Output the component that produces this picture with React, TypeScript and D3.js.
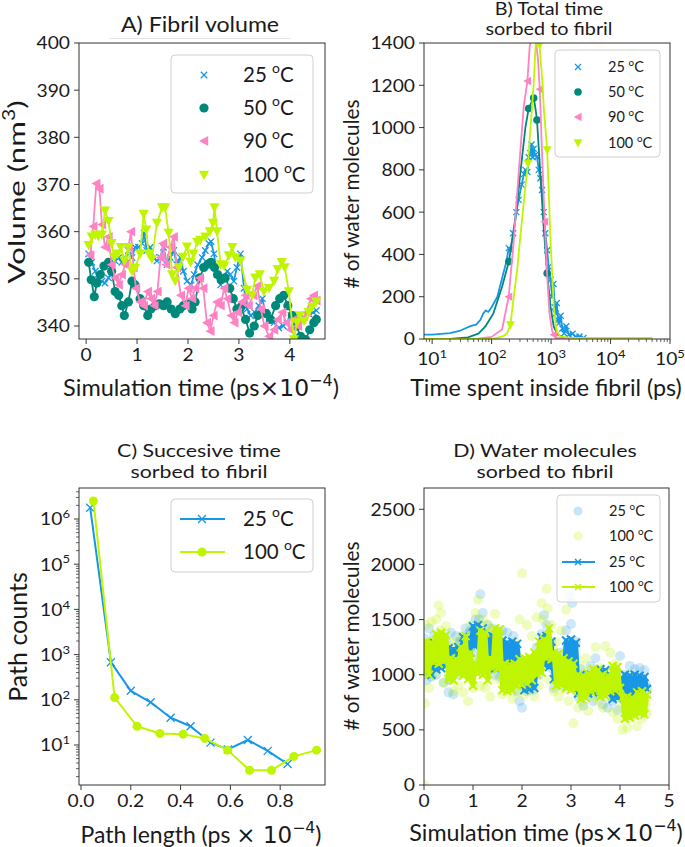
import React from 'react';
import * as d3 from 'd3';

const FONT = 'Lato, "Open Sans", sans-serif';
const MATH = '"DejaVu Sans", sans-serif';

const BLUE = '#1797e6';
const TEAL = '#00897a';
const PINK = '#ff82c3';
const LIME = '#bff500';

// ---------- Panel A: Fibril volume (time ×1e-4 ps, nm^3)
const A25: [number, number][] = [[0.05,355.3],[0.11,353.5],[0.18,351.6],[0.24,349.8],[0.31,349.5],[0.37,349.1],[0.44,350.2],[0.5,351.6],[0.57,353.8],[0.64,354.5],[0.7,353.5],[0.77,354.5],[0.83,356],[0.9,354.5],[0.96,356.7],[1.03,356.7],[1.1,357.5],[1.14,359.7],[1.19,356],[1.26,356.7],[1.33,354.5],[1.39,353.8],[1.46,354.5],[1.52,356.7],[1.59,353],[1.65,354.5],[1.72,356],[1.78,353],[1.85,354.5],[1.91,351.6],[1.98,349.5],[2.06,348.7],[2.12,350.9],[2.19,353],[2.28,354.5],[2.34,356],[2.41,357.5],[2.45,357.9],[2.51,355.3],[2.57,350.9],[2.64,348.7],[2.7,350.2],[2.77,351.6],[2.83,350.9],[2.9,349.5],[2.96,352.4],[3.03,355.3],[3.1,348],[3.16,343.6],[3.23,342.2],[3.31,342.9],[3.39,344.3],[3.46,345.8],[3.52,342.9],[3.59,341.4],[3.69,340.7],[3.78,339.6],[3.87,340],[3.94,340.7],[4.02,342.2],[4.11,340.7],[4.2,341.4],[4.28,341.8],[4.37,342.6],[4.46,342.9],[4.52,343.3]];
const A50: [number, number][] = [[0.05,353.5],[0.1,349.8],[0.16,346.2],[0.21,349.1],[0.28,350.9],[0.35,352.7],[0.44,353.5],[0.5,351.6],[0.57,347.3],[0.64,346.5],[0.7,344.3],[0.75,342.2],[0.83,345.1],[0.9,349.5],[0.96,348.7],[1.06,345.8],[1.13,344.3],[1.21,342.2],[1.27,343.6],[1.36,344.3],[1.44,344.7],[1.52,344.3],[1.59,345.1],[1.67,343.6],[1.75,342.6],[1.84,343.6],[1.91,344.3],[2.0,344.7],[2.08,343.6],[2.14,345.1],[2.23,350.2],[2.31,352.4],[2.39,353.1],[2.45,353.5],[2.52,352.4],[2.58,350.9],[2.65,349.8],[2.73,350.2],[2.82,348],[2.89,345.8],[2.96,343.6],[3.04,344],[3.13,341.4],[3.21,338.5],[3.3,340],[3.37,342.2],[3.46,342.9],[3.54,342.6],[3.62,341.4],[3.72,344.3],[3.8,345.8],[3.88,346.5],[3.96,344.3],[4.05,342.2],[4.13,340],[4.21,337.8],[4.31,337.1],[4.39,339.2],[4.47,340.7],[4.52,341.4]];
const A90: [number, number][] = [[0.08,355],[0.14,361.1],[0.2,370.2],[0.26,369.1],[0.31,361.5],[0.37,356.7],[0.44,358.9],[0.5,353],[0.57,350.2],[0.64,348.7],[0.7,350.9],[0.77,353],[0.83,356.7],[0.88,360],[0.93,352.4],[0.98,348],[1.06,345.1],[1.13,344.3],[1.21,347.3],[1.27,345.8],[1.34,344.3],[1.4,347.3],[1.46,354.5],[1.51,357.5],[1.57,353],[1.65,356.7],[1.72,358.9],[1.78,352.4],[1.86,346.5],[1.95,344.3],[2.01,348],[2.08,345.8],[2.14,348],[2.23,350.2],[2.3,348],[2.37,340.7],[2.44,338.9],[2.5,342.2],[2.57,345.1],[2.64,344.3],[2.71,348],[2.77,345.8],[2.85,342.2],[2.91,340.7],[2.98,342.9],[3.06,345.1],[3.13,346.5],[3.19,344.3],[3.28,346.5],[3.36,348.5],[3.43,343.6],[3.5,340],[3.59,337.8],[3.69,339.2],[3.76,341.4],[3.85,342.9],[3.93,340.7],[4.01,339.2],[4.08,341.4],[4.16,340],[4.24,341.4],[4.33,342.9],[4.41,345.8],[4.47,346.5],[4.52,345.4]];
const A100: [number, number][] = [[0.05,357.1],[0.11,358.9],[0.18,359.3],[0.24,359],[0.31,359.3],[0.37,364.4],[0.44,362.2],[0.5,357.5],[0.55,354.6],[0.62,355.3],[0.68,356.7],[0.75,353.8],[0.83,356.7],[0.9,351.6],[0.96,352.3],[1.06,355.3],[1.13,363.7],[1.18,360.4],[1.23,355.3],[1.29,354.2],[1.39,361.8],[1.49,365.1],[1.55,365.1],[1.62,359.7],[1.69,350.9],[1.75,349.5],[1.82,352.4],[1.9,354.6],[1.98,356.8],[2.05,353.5],[2.11,355.3],[2.18,357.8],[2.24,358.2],[2.34,358.9],[2.43,360],[2.49,361.8],[2.52,365.1],[2.57,360],[2.64,353],[2.71,352.7],[2.8,354.9],[2.87,356.7],[2.93,354.5],[3.03,353.8],[3.16,347.6],[3.26,346.5],[3.32,350.2],[3.41,350.9],[3.49,347.3],[3.59,348],[3.69,349.5],[3.76,352],[3.84,353.5],[3.9,352.4],[3.98,347.3],[4.08,337.1],[4.14,340.7],[4.2,342.2],[4.28,341],[4.37,342.9],[4.44,344],[4.52,345.1]];
const A_X_TICKS = [0, 1, 2, 3, 4];
const A_Y_TICKS = [340, 350, 360, 370, 380, 390, 400];

// ---------- Panel B: total time sorbed (ps, count)
const B25: [number, number][] = [[5,20],[10,21],[20,28],[30,40],[45,62],[55,68],[65,90],[72,120],[80,135],[88,128],[100,150],[125,200],[150,287],[175,360],[195,430],[207,421],[230,500],[260,600],[285,658],[320,730],[350,780],[370,800],[400,790],[420,860],[450,880],[470,920],[490,860],[510,900],[540,870],[580,862],[620,800],[660,760],[705,705],[750,600],[800,500],[860,420],[910,342],[980,280],[1040,200],[1100,260],[1150,150],[1200,121],[1250,170],[1300,90],[1350,74],[1450,110],[1550,50],[1660,27],[1800,60],[2000,20],[2300,25],[2600,10],[3000,12],[3500,5],[5000,3],[50000,2]];
const B50: [number, number][] = [[5,0],[20,1],[40,8],[60,25],[78,58],[107,121],[150,247],[195,366],[250,560],[303,780],[370,1000],[420,1090],[470,1120],[510,1140],[540,1100],[580,1036],[660,784],[750,531],[860,311],[980,153],[1110,58],[1300,20],[1600,6],[2500,2],[50000,1]];
const B90: [number, number][] = [[5,0],[40,0],[60,2],[100,10],[150,45],[194,200],[236,468],[285,784],[347,1099],[400,1220],[437,1383],[480,1450],[547,1420],[600,1330],[645,1181],[700,900],[780,555],[860,300],[940,121],[1040,40],[1110,20],[1200,5],[2000,1],[50000,0]];
const B100: [number, number][] = [[5,0],[100,0],[131,8],[160,15],[182,27],[207,66],[236,200],[270,330],[303,480],[340,620],[370,720],[410,830],[440,960],[480,1100],[515,1225],[547,1383],[590,1450],[640,1390],[700,1250],[760,1080],[860,894],[980,468],[1110,153],[1230,43],[1400,12],[2000,6],[50000,5]];
const B_MARK50 = [195, 420, 510, 580, 860];
const B_MARK90 = [194, 400, 645, 780, 1110];
const B_MARK100 = [207, 410, 640, 860];
const B_X_EXP = [1, 2, 3, 4, 5];
const B_Y_TICKS = [0, 200, 400, 600, 800, 1000, 1200, 1400];

// ---------- Panel C: path counts
const C25: [number, number][] = [[0.037,1.78e6],[0.12,680],[0.2,158],[0.28,88],[0.36,40],[0.44,26],[0.52,11.3],[0.59,8],[0.67,12.9],[0.75,7.4],[0.83,3.8]];
const C100: [number, number][] = [[0.05,2.5e6],[0.135,112],[0.225,26],[0.317,18],[0.41,17.4],[0.497,14],[0.589,7.7],[0.677,2.75],[0.765,2.75],[0.855,5.6],[0.946,7.7]];
const C_X_TICKS = [0, 0.2, 0.4, 0.6, 0.8];
const C_Y_EXP = [1, 2, 3, 4, 5, 6];

// ---------- Panel D: water molecules sorbed
const D_DT = 0.05;
const D_LINE25 = [1280,1020,1250,1000,1290,1050,1270,1060,1300,1080,1240,1050,1230,1070,1250,1150,1340,1160,1330,1200,1440,1260,1450,1270,1420,1120,1340,1100,1350,1060,1340,1080,1310,1120,1290,1110,1300,1130,1280,1100,1050,860,1040,870,1030,880,1060,1080,1340,1090,1350,1070,1300,960,1150,950,1140,980,1310,1060,1320,1070,1290,830,1000,820,990,830,1000,840,990,860,1050,850,1040,870,970,780,980,790,960,820,1000,830,990,820,1000,840,990,830,980,870];
const D_LINE100 = [1010,1300,1000,1290,1110,1370,1100,1380,1120,1360,960,1150,950,1140,1010,1250,990,1350,960,1200,900,1100,1010,1400,1000,1380,950,1150,1060,1420,1050,1410,860,1100,850,1090,860,1100,900,1140,910,1150,920,1160,950,1200,1000,1300,1020,1320,1150,1420,1140,1200,900,1190,910,1150,880,1120,860,1100,870,1000,780,990,790,1010,850,1050,860,1040,800,1000,810,990,850,1080,860,1070,880,790,600,800,610,790,630,840,650,850,640,820];
const D_SC25: [number, number][] = [[0,1330],[0.05,950],[0.1,1420],[0.15,980],[0.2,1350],[0.25,1000],[0.3,1250],[0.35,1320],[0.4,930],[0.45,1310],[0.5,840],[0.55,1380],[0.6,820],[0.65,1350],[0.7,1000],[0.75,1300],[0.8,1150],[0.85,1420],[0.9,1080],[0.95,1400],[1.0,1200],[1.05,1500],[1.1,1120],[1.15,1730],[1.2,1560],[1.25,1150],[1.3,1450],[1.35,1050],[1.4,1420],[1.45,1000],[1.5,1350],[1.55,980],[1.6,1400],[1.65,1060],[1.7,1380],[1.75,1000],[1.8,1240],[1.85,1120],[1.9,850],[1.95,760],[2.0,700],[2.05,1000],[2.1,850],[2.15,1080],[2.2,920],[2.25,1150],[2.3,1250],[2.35,1000],[2.4,1370],[2.45,1540],[2.5,1450],[2.55,1100],[2.6,1300],[2.65,880],[2.7,1150],[2.75,1000],[2.8,1200],[2.85,900],[2.9,1400],[2.95,1250],[3.0,1460],[3.05,1100],[3.1,1300],[3.15,800],[3.2,1050],[3.25,720],[3.3,990],[3.35,880],[3.4,1080],[3.45,760],[3.5,1150],[3.55,820],[3.6,1000],[3.65,730],[3.7,950],[3.75,700],[3.8,980],[3.85,760],[3.9,1050],[3.95,680],[4.0,1170],[4.05,780],[4.1,1000],[4.15,700],[4.2,1080],[4.25,800],[4.3,1050],[4.35,760],[4.4,1060],[4.45,800],[4.5,1040],[4.55,880],
  [0.025,1100],[0.125,1200],[0.225,1080],[0.325,1150],[0.425,1230],[0.525,950],[0.625,1180],[0.725,1300],[0.825,1250],[0.925,1380],[1.025,1300],[1.125,1500],[1.225,1380],[1.325,1250],[1.425,1180],[1.525,1250],[1.625,1150],[1.725,1260],[1.825,1350],[1.925,1150],[2.025,950],[2.125,980],[2.225,860],[2.325,1150],[2.425,1280],[2.525,1200],[2.625,1050],[2.725,1080],[2.825,1120],[2.925,1200],[2.975,1720],[3.025,1650],[3.125,1000],[3.225,900],[3.325,820],[3.425,950],[3.525,880],[3.625,900],[3.725,850],[3.825,900],[3.925,830],[4.025,900],[4.125,950],[4.225,880],[4.325,950],[4.425,900],[4.525,920]];
const D_SC100: [number, number][] = [[0,0],[0.02,740],[0.05,1450],[0.1,880],[0.15,1480],[0.2,1200],[0.25,1500],[0.3,1630],[0.35,1560],[0.4,920],[0.45,1440],[0.5,1000],[0.55,1260],[0.6,850],[0.65,1300],[0.7,900],[0.75,1350],[0.8,840],[0.85,1270],[0.9,760],[0.95,1450],[1.0,880],[1.05,1560],[1.1,1680],[1.15,900],[1.2,1500],[1.25,880],[1.3,1450],[1.35,800],[1.4,1380],[1.45,1550],[1.5,960],[1.55,1300],[1.6,820],[1.65,1200],[1.7,860],[1.75,1150],[1.8,780],[1.85,1300],[1.9,840],[1.95,1500],[2.0,1920],[2.05,820],[2.1,1450],[2.15,880],[2.2,1350],[2.25,800],[2.3,1520],[2.35,900],[2.4,1650],[2.45,1350],[2.5,1780],[2.55,950],[2.6,1450],[2.65,850],[2.7,1300],[2.75,800],[2.8,1400],[2.85,870],[2.9,1590],[2.95,760],[3.0,1300],[3.05,560],[3.1,1150],[3.15,700],[3.2,1080],[3.25,750],[3.3,1150],[3.35,670],[3.4,1050],[3.45,880],[3.5,1250],[3.55,760],[3.6,1060],[3.65,700],[3.7,1260],[3.75,800],[3.8,1200],[3.85,660],[3.9,1100],[3.95,600],[4.0,950],[4.05,500],[4.1,880],[4.15,520],[4.2,1000],[4.25,620],[4.3,900],[4.35,530],[4.4,800],[4.45,600],[4.5,750],[4.55,650],
  [0.025,1150],[0.125,1300],[0.225,1000],[0.325,1400],[0.425,1250],[0.525,1100],[0.625,1050],[0.725,1200],[0.825,1100],[0.925,1000],[1.025,1100],[1.125,1450],[1.225,1200],[1.325,1050],[1.425,1250],[1.525,1380],[1.625,980],[1.725,950],[1.825,1000],[1.925,1050],[2.025,1100],[2.125,1050],[2.225,1150],[2.325,1200],[2.425,1500],[2.525,1600],[2.625,1250],[2.725,1000],[2.825,1050],[2.925,950],[3.025,1000],[3.125,850],[3.225,900],[3.325,950],[3.425,800],[3.525,950],[3.625,900],[3.725,1000],[3.825,950],[3.925,850],[4.025,700],[4.125,650],[4.225,720],[4.325,700],[4.425,680],[4.525,720]];
const D_X_TICKS = [0, 1, 2, 3, 4, 5];
const D_Y_TICKS = [0, 500, 1000, 1500, 2000, 2500];

type Part = { t: string; sup?: boolean; font?: string };

function Txt(props: { x: number; y: number; parts: Part[]; size: number; anchor?: string; rotate?: boolean; font?: string; fill?: string; sx?: number }) {
  const { x, y, parts, size, anchor = 'start', rotate, font = FONT, fill = '#1a1a1a', sx = 1 } = props;
  let raised = false;
  const shift = size * 0.42;
  const kids = parts.map((p, i) => {
    let dy: number | undefined;
    if (p.sup && !raised) { dy = -shift; raised = true; }
    else if (!p.sup && raised) { dy = shift; raised = false; }
    return (
      <tspan key={i} dy={dy} fontSize={p.sup ? size * 0.68 : size} fontFamily={p.font || font}>{p.t}</tspan>
    );
  });
  let transform: string | undefined;
  if (rotate) transform = `translate(${x},${y}) rotate(-90) scale(${sx},1)`;
  else if (sx !== 1) transform = `translate(${x},${y}) scale(${sx},1)`;
  const useOrigin = rotate || sx !== 1;
  return (
    <text x={useOrigin ? 0 : x} y={useOrigin ? 0 : y} fontSize={size} fontFamily={font} textAnchor={anchor as any} fill={fill}
      transform={transform}>{kids}</text>
  );
}

function Mk(props: { type: string; x: number; y: number; s: number; color: string; sw?: number }) {
  const { type, x, y, s, color, sw = 1.3 } = props;
  if (type === 'x') return <path d={`M${x - s},${y - s}L${x + s},${y + s}M${x - s},${y + s}L${x + s},${y - s}`} stroke={color} strokeWidth={sw} fill="none" />;
  if (type === 'o') return <circle cx={x} cy={y} r={s} fill={color} />;
  if (type === '<') return <path d={`M${x - s},${y}L${x + s * 0.85},${y - s}L${x + s * 0.85},${y + s}Z`} fill={color} />;
  return <path d={`M${x - s},${y - s * 0.85}L${x + s},${y - s * 0.85}L${x},${y + s}Z`} fill={color} />;
}

const deg = (n: string): Part[] => [{ t: n + ' ' }, { t: 'o', sup: true }, { t: 'C' }];

const TICK = 17.5;
const TICK_SX = 1.1;

function LeftTicks(props: { l: number; vals: number[]; sc: (v: number) => number; fmt?: (v: number) => Part[] }) {
  const { l, vals, sc, fmt } = props;
  return (
    <g>
      {vals.map((v) => (
        <g key={v}>
          <line x1={l - 5} x2={l} y1={sc(v)} y2={sc(v)} stroke="#222" strokeWidth={0.9} />
          <Txt x={l - 9} y={sc(v) + TICK * 0.37} parts={fmt ? fmt(v) : [{ t: String(v) }]} size={TICK} sx={TICK_SX} anchor="end" />
        </g>
      ))}
    </g>
  );
}

function BottomTicks(props: { b: number; vals: number[]; sc: (v: number) => number; fmt?: (v: number) => Part[]; dy?: number }) {
  const { b, vals, sc, fmt, dy = 22 } = props;
  return (
    <g>
      {vals.map((v) => (
        <g key={v}>
          <line x1={sc(v)} x2={sc(v)} y1={b} y2={b + 5} stroke="#222" strokeWidth={0.9} />
          <Txt x={sc(v)} y={b + dy} parts={fmt ? fmt(v) : [{ t: String(v) }]} size={TICK} sx={TICK_SX} anchor="middle" />
        </g>
      ))}
    </g>
  );
}

function Frame(p: { l: number; r: number; t: number; b: number }) {
  return <rect x={p.l} y={p.t} width={p.r - p.l} height={p.b - p.t} fill="none" stroke="#333" strokeWidth={1} />;
}

export default function App() {
  // ---------------- A
  const aL = 79, aR = 325, aT = 43, aB = 339;
  const ax = d3.scaleLinear().domain([-0.14, 4.69]).range([aL, aR]);
  const ay = d3.scaleLinear().domain([337.24, 400]).range([aB, aT]);
  const aLine = d3.line<[number, number]>().x((d) => ax(d[0])).y((d) => ay(d[1]));
  const aSeries = [
    { d: A25, c: BLUE, m: 'x', s: 3.2, lab: '25' },
    { d: A50, c: TEAL, m: 'o', s: 4.6, lab: '50' },
    { d: A90, c: PINK, m: '<', s: 4.9, lab: '90' },
    { d: A100, c: LIME, m: 'v', s: 5.1, lab: '100' },
  ];

  // ---------------- B
  const bL = 424, bR = 670, bT = 43, bB = 339;
  const bx = d3.scaleLog().domain([7.3, 1e5]).range([bL, bR]);
  const by = d3.scaleLinear().domain([0, 1400]).range([bB, bT]);
  const bLine = d3.line<[number, number]>().x((d) => bx(d[0])).y((d) => by(d[1]));
  const bSeries = [
    { d: B25, c: BLUE, m: 'x', s: 3, marks: B25.filter((p) => p[0] >= 190 && p[0] <= 3500).map((p) => p[0]), lab: '25' },
    { d: B50, c: TEAL, m: 'o', s: 3.8, marks: B_MARK50, lab: '50' },
    { d: B90, c: PINK, m: '<', s: 4.2, marks: B_MARK90, lab: '90' },
    { d: B100, c: LIME, m: 'v', s: 4.4, marks: B_MARK100, lab: '100' },
  ];
  const bMinor: number[] = [];
  for (let e = 0; e < 5; e++) for (let k = 2; k <= 9; k++) { const v = k * Math.pow(10, e); if (v >= 7.3 && v <= 1e5) bMinor.push(v); }

  // ---------------- C
  const cL = 79, cR = 325, cT = 488, cB = 785;
  const cx = d3.scaleLinear().domain([-0.008, 0.98]).range([cL, cR]);
  const cy = d3.scaleLog().domain([Math.pow(10, 0.115), Math.pow(10, 6.686)]).range([cB, cT]);
  const cLine = d3.line<[number, number]>().x((d) => cx(d[0])).y((d) => cy(d[1]));
  const cMinor: number[] = [];
  for (let e = 0; e < 7; e++) for (let k = 2; k <= 9; k++) { const v = k * Math.pow(10, e); if (v >= Math.pow(10, 0.115) && v <= Math.pow(10, 6.686)) cMinor.push(v); }

  // ---------------- D
  const dL = 424, dR = 669, dT = 488, dB = 785;
  const dx = d3.scaleLinear().domain([0, 5]).range([dL, dR]);
  const dy = d3.scaleLinear().domain([0, 2693]).range([dB, dT]);
  const dLine = d3.line<number>().x((_, i) => dx(i * D_DT)).y((v) => dy(v));

  const logFmt = (e: number): Part[] => [{ t: '10' }, { t: String(e), sup: true }];

  return (
    <svg width={685} height={847} style={{ position: 'absolute', left: 0, top: 0, background: '#fff' }} fontFamily={FONT}>
      <defs>
        <clipPath id="clipA"><rect x={aL} y={aT} width={aR - aL} height={aB - aT} /></clipPath>
        <clipPath id="clipB"><rect x={bL} y={bT} width={bR - bL} height={bB - bT} /></clipPath>
        <clipPath id="clipC"><rect x={cL} y={cT} width={cR - cL} height={cB - cT} /></clipPath>
        <clipPath id="clipD"><rect x={dL} y={dT} width={dR - dL} height={dB - dT} /></clipPath>
      </defs>
      <rect x={0} y={0} width={685} height={847} fill="#fff" />

      {/* ================= Panel A ================= */}
      <Txt x={200} y={32} parts={[{ t: 'A) Fibril volume' }]} size={21} sx={1.1} anchor="middle" />
      <line x1={110} x2={290} y1={38.5} y2={38.5} stroke="#e4e4e4" strokeWidth={1} />
      <g clipPath="url(#clipA)">
        {aSeries.map((s) => (
          <g key={s.lab}>
            <path d={aLine(s.d) || ''} fill="none" stroke={s.c} strokeWidth={1.8} strokeLinejoin="round" />
            {s.d.map((p, i) => <Mk key={i} type={s.m} x={ax(p[0])} y={ay(p[1])} s={s.s} color={s.c} />)}
          </g>
        ))}
      </g>
      <Frame l={aL} r={aR} t={aT} b={aB} />
      <LeftTicks l={aL} vals={A_Y_TICKS} sc={ay} />
      <BottomTicks b={aB} vals={A_X_TICKS} sc={ax} />
      <Txt x={25} y={192} rotate sx={1.3} parts={[{ t: 'Volume (nm' }, { t: '3', sup: true }, { t: ')' }]} size={24} anchor="middle" />
      <Txt x={201} y={396} parts={[{ t: 'Simulation time (ps' }, { t: '×10', font: MATH }, { t: '−4', sup: true, font: MATH }, { t: ')' }]} size={23.5} anchor="middle" />
      <rect x={171} y={55} width={142} height={138} rx={4} fill="#fff" fillOpacity={0.85} stroke="#d0d0d0" />
      {aSeries.map((s, i) => {
        const yy = [75, 108, 141, 175][i];
        return (
          <g key={s.lab}>
            <Mk type={s.m} x={204} y={yy} s={s.s} color={s.c} />
            <Txt x={243} y={yy + 7} parts={deg(s.lab)} size={20.5} />
          </g>
        );
      })}

      {/* ================= Panel B ================= */}
      <Txt x={549} y={15} parts={[{ t: 'B) Total time' }]} size={16.5} sx={1.2} anchor="middle" />
      <Txt x={549} y={35} parts={[{ t: 'sorbed to fibril' }]} size={16.5} sx={1.2} anchor="middle" />
      <g clipPath="url(#clipB)">
        {bSeries.map((s) => (
          <g key={s.lab}>
            <path d={bLine(s.d) || ''} fill="none" stroke={s.c} strokeWidth={1.8} strokeLinejoin="round" />
            {s.d.filter((p) => s.marks.includes(p[0])).map((p, i) => (
              <Mk key={i} type={s.m} x={bx(p[0])} y={by(p[1])} s={s.s} color={s.c} />
            ))}
          </g>
        ))}
      </g>
      <Frame l={bL} r={bR} t={bT} b={bB} />
      {bMinor.map((v) => <line key={v} x1={bx(v)} x2={bx(v)} y1={bB} y2={bB + 3} stroke="#222" strokeWidth={0.7} />)}
      <LeftTicks l={bL} vals={B_Y_TICKS} sc={by} />
      <BottomTicks b={bB} vals={B_X_EXP.map((e) => Math.pow(10, e))} sc={bx} dy={26}
        fmt={(v) => logFmt(Math.round(Math.log10(v)))} />
      <Txt x={359} y={194} rotate parts={[{ t: '# of water molecules' }]} size={20.8} anchor="middle" />
      <Txt x={546} y={396} parts={[{ t: 'Time spent inside fibril (ps)' }]} size={23.3} anchor="middle" />
      <rect x={555} y={50} width={105} height={107} rx={4} fill="#fff" fillOpacity={0.85} stroke="#d0d0d0" />
      {bSeries.map((s, i) => {
        const yy = [67, 92, 117, 143][i];
        return (
          <g key={s.lab}>
            <Mk type={s.m} x={578} y={yy} s={s.s} color={s.c} />
            <Txt x={608} y={yy + 5} parts={deg(s.lab)} size={14.5} />
          </g>
        );
      })}

      {/* ================= Panel C ================= */}
      <Txt x={199} y={457} parts={[{ t: 'C) Succesive time' }]} size={17.5} sx={1.22} anchor="middle" />
      <Txt x={199} y={478} parts={[{ t: 'sorbed to fibril' }]} size={17.5} sx={1.22} anchor="middle" />
      <g clipPath="url(#clipC)">
        <path d={cLine(C25) || ''} fill="none" stroke={BLUE} strokeWidth={2} strokeLinejoin="round" />
        {C25.map((p, i) => <Mk key={i} type="x" x={cx(p[0])} y={cy(p[1])} s={4} color={BLUE} />)}
        <path d={cLine(C100) || ''} fill="none" stroke={LIME} strokeWidth={2} strokeLinejoin="round" />
        {C100.map((p, i) => <Mk key={i} type="o" x={cx(p[0])} y={cy(p[1])} s={4.5} color={LIME} />)}
      </g>
      <Frame l={cL} r={cR} t={cT} b={cB} />
      {cMinor.map((v) => <line key={v} x1={cL - 3} x2={cL} y1={cy(v)} y2={cy(v)} stroke="#222" strokeWidth={0.7} />)}
      <LeftTicks l={cL} vals={C_Y_EXP.map((e) => Math.pow(10, e))} sc={cy} fmt={(v) => logFmt(Math.round(Math.log10(v)))} />
      <BottomTicks b={cB} vals={C_X_TICKS} sc={cx} fmt={(v) => [{ t: v.toFixed(1) }]} />
      <Txt x={27} y={637} rotate parts={[{ t: 'Path counts' }]} size={25} anchor="middle" />
      <Txt x={201} y={843} parts={[{ t: 'Path length (ps ' }, { t: '× 10', font: MATH }, { t: '−4', sup: true, font: MATH }, { t: ')' }]} size={23} anchor="middle" />
      <rect x={171} y={499} width={142} height={73} rx={4} fill="#fff" fillOpacity={0.85} stroke="#d0d0d0" />
      <line x1={180} x2={225} y1={519} y2={519} stroke={BLUE} strokeWidth={2} />
      <Mk type="x" x={202} y={519} s={4} color={BLUE} />
      <Txt x={243} y={526} parts={deg('25')} size={20.5} />
      <line x1={180} x2={225} y1={552} y2={552} stroke={LIME} strokeWidth={2} />
      <Mk type="o" x={202} y={552} s={4.5} color={LIME} />
      <Txt x={243} y={559} parts={deg('100')} size={20.5} />

      {/* ================= Panel D ================= */}
      <Txt x={545} y={457} parts={[{ t: 'D) Water molecules' }]} size={17.5} sx={1.22} anchor="middle" />
      <Txt x={545} y={478} parts={[{ t: 'sorbed to fibril' }]} size={17.5} sx={1.22} anchor="middle" />
      <g clipPath="url(#clipD)">
        {D_SC25.map((p, i) => <circle key={'b' + i} cx={dx(p[0])} cy={dy(p[1])} r={5} fill={BLUE} fillOpacity={0.22} />)}
        {D_SC100.map((p, i) => <circle key={'g' + i} cx={dx(p[0])} cy={dy(p[1])} r={5} fill={LIME} fillOpacity={0.25} />)}
        <path d={dLine(D_LINE25) || ''} fill="none" stroke={BLUE} strokeWidth={4.5} strokeLinejoin="round" />
        {D_LINE25.map((v, i) => <Mk key={i} type="x" x={dx(i * D_DT)} y={dy(v)} s={4} color={BLUE} sw={2} />)}
        <path d={dLine(D_LINE100) || ''} fill="none" stroke={LIME} strokeWidth={4.5} strokeLinejoin="round" />
        {D_LINE100.map((v, i) => <Mk key={i} type="x" x={dx(i * D_DT)} y={dy(v)} s={4} color={LIME} sw={2} />)}
      </g>
      <Frame l={dL} r={dR} t={dT} b={dB} />
      <LeftTicks l={dL} vals={D_Y_TICKS} sc={dy} />
      <BottomTicks b={dB} vals={D_X_TICKS} sc={dx} />
      <Txt x={359} y={636} rotate parts={[{ t: '# of water molecules' }]} size={20.8} anchor="middle" />
      <Txt x={546} y={841} parts={[{ t: 'Simulation time (ps' }, { t: '×10', font: MATH }, { t: '−4', sup: true, font: MATH }, { t: ')' }]} size={23.3} anchor="middle" />
      <rect x={557} y={495} width={103} height={107} rx={4} fill="#fff" fillOpacity={0.85} stroke="#d0d0d0" />
      <circle cx={578} cy={511} r={4.5} fill={BLUE} fillOpacity={0.25} />
      <Txt x={609} y={516} parts={deg('25')} size={14.5} />
      <circle cx={578} cy={536} r={4.5} fill={LIME} fillOpacity={0.25} />
      <Txt x={609} y={541} parts={deg('100')} size={14.5} />
      <line x1={562} x2={595} y1={562} y2={562} stroke={BLUE} strokeWidth={2} />
      <Mk type="x" x={578} y={562} s={3} color={BLUE} sw={1.5} />
      <Txt x={609} y={567} parts={deg('25')} size={14.5} />
      <line x1={562} x2={595} y1={587} y2={587} stroke={LIME} strokeWidth={2} />
      <Mk type="x" x={578} y={587} s={3} color={LIME} sw={1.5} />
      <Txt x={609} y={592} parts={deg('100')} size={14.5} />
    </svg>
  );
}
